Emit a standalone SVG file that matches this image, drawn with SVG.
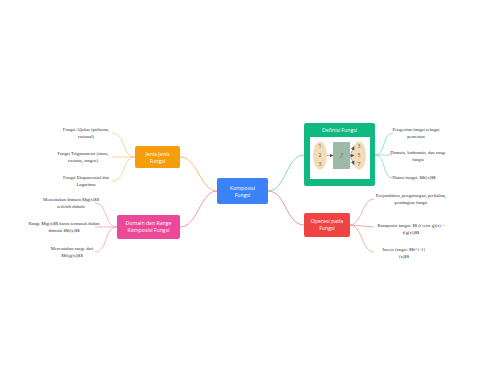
<svg xmlns="http://www.w3.org/2000/svg" width="480" height="384" viewBox="0 0 480 384">
<defs>
<style>
.leaf{font-family:"Liberation Serif",serif;font-size:4.6px;fill:#333;text-anchor:middle}
.nt{font-family:"Open Sans","Liberation Sans",sans-serif;font-size:5.2px;fill:#fff;text-anchor:middle}
.c{fill:none;stroke-width:0.8}
.num{font-family:"Open Sans","Liberation Sans",sans-serif;font-size:5px;fill:#555;text-anchor:middle}
</style>
<marker id="ah" markerWidth="4" markerHeight="4" refX="3.5" refY="2" orient="auto" markerUnits="userSpaceOnUse"><path d="M0,0 L4,2 L0,4 Z" fill="#555"/></marker>
</defs>
<rect width="480" height="384" fill="#fff"/>
<g id="connectors">
<path class="c" stroke="#f5b041" d="M217,191 C200,191 198,157 180,157"/>
<path class="c" stroke="#f07aa8" d="M217,191 C200,191 198,227 180,227"/>
<path class="c" stroke="#5fcfa4" d="M268,191 C286,191 286,155 304,155"/>
<path class="c" stroke="#f07a7a" d="M268,191 C286,191 286,225 304,225"/>
<path class="c" stroke="#f5c77a" d="M135,157 C122,157 126,133 112,133"/>
<path class="c" stroke="#f5c77a" d="M135,157 L112,157"/>
<path class="c" stroke="#f5c77a" d="M135,157 C122,157 126,181 112,181"/>
<path class="c" stroke="#f3a0c4" d="M117,227 C104,227 108,203 95,203"/>
<path class="c" stroke="#f3a0c4" d="M117,227 L95,227"/>
<path class="c" stroke="#f3a0c4" d="M117,227 C104,227 108,252 95,252"/>
<path class="c" stroke="#7fd8b5" d="M375,155 C386,155 382,133 393,133"/>
<path class="c" stroke="#7fd8b5" d="M375,155 L392,155"/>
<path class="c" stroke="#7fd8b5" d="M375,155 C386,155 382,178 393,178"/>
<path class="c" stroke="#f39a9a" d="M350,225 C362,225 362,199 374,199"/>
<path class="c" stroke="#f39a9a" d="M350,225 L374,227"/>
<path class="c" stroke="#f39a9a" d="M350,225 C362,225 362,252 374,252"/>
</g>
<g id="center">
<rect x="217" y="178" width="51" height="26" rx="2" fill="#3b82f6"/>
<text class="nt" x="242.5" y="189.5">Komposisi</text>
<text class="nt" x="242.5" y="197">Fungsi</text>
</g>
<g id="jenis">
<rect x="135" y="146" width="45" height="22" rx="2" fill="#f59e0b"/>
<text class="nt" x="157.5" y="155.5" font-size="4.8">Jenis-Jenis</text>
<text class="nt" x="157.5" y="162.5" font-size="4.8">Fungsi</text>
</g>
<g id="domain">
<rect x="117" y="215" width="63" height="24" rx="2" fill="#ec4899"/>
<text class="nt" x="148.5" y="225" font-size="4.8">Domain dan Range</text>
<text class="nt" x="148.5" y="232" font-size="4.8">Komposisi Fungsi</text>
</g>
<g id="definisi">
<rect x="304" y="123" width="71" height="63" rx="2" fill="#10b981"/>
<text class="nt" x="339.5" y="132" font-size="4.8">Definisi Fungsi</text>
<rect x="310" y="137" width="60" height="42" fill="#fff"/>
<ellipse cx="320" cy="155.5" rx="7" ry="14" fill="#f3dcb8"/>
<ellipse cx="359" cy="155.5" rx="7" ry="14" fill="#f3dcb8"/>
<rect x="333" y="142" width="17" height="27" fill="#9dbaa8"/>
<text class="num" x="320" y="148">1</text>
<text class="num" x="320" y="157">2</text>
<text class="num" x="320" y="166">3</text>
<text class="num" x="359" y="148">3</text>
<text class="num" x="359" y="157">5</text>
<text class="num" x="359" y="166">7</text>
<text class="num" x="341.5" y="157" font-style="italic">f</text>
<g stroke="#555" stroke-width="0.5" fill="none">
<path d="M327,155.5 L333,155.5" marker-end="url(#ah)"/>
<path d="M350,155.5 L354,146.5" marker-end="url(#ah)"/>
<path d="M350,155.5 L354,155.5" marker-end="url(#ah)"/>
<path d="M350,155.5 L354,164.5" marker-end="url(#ah)"/>
</g>
</g>
<g id="operasi">
<rect x="304" y="213" width="46" height="24" rx="2" fill="#ef4444"/>
<text class="nt" x="327" y="223" font-size="4.8">Operasi pada</text>
<text class="nt" x="327" y="230" font-size="4.8">Fungsi</text>
</g>
<g id="leaf-j1"><text class="leaf" x="86" y="131">Fungsi Aljabar (polinom,</text><text class="leaf" x="86" y="138">rasional)</text></g>
<g id="leaf-j2"><text class="leaf" x="83" y="155">Fungsi Trigonometri (sinus,</text><text class="leaf" x="83" y="162">cosinus, tangen)</text></g>
<g id="leaf-j3"><text class="leaf" x="86" y="179">Fungsi Eksponensial dan</text><text class="leaf" x="86" y="186">Logaritma</text></g>
<g id="leaf-d1"><text class="leaf" x="71" y="201">Menentukan domain $$g(x)$$</text><text class="leaf" x="71" y="208">terlebih dahulu</text></g>
<g id="leaf-d2"><text class="leaf" x="64" y="225">Range $$g(x)$$ harus termasuk dalam</text><text class="leaf" x="64" y="232">domain $$f(x)$$</text></g>
<g id="leaf-d3"><text class="leaf" x="72" y="250">Menentukan range dari</text><text class="leaf" x="72" y="257">$$f(g(x))$$</text></g>
<g id="leaf-g1"><text class="leaf" x="416" y="131">Pengertian fungsi sebagai</text><text class="leaf" x="416" y="138">pemetaan</text></g>
<g id="leaf-g2"><text class="leaf" x="418" y="154">Domain, kodomain, dan range</text><text class="leaf" x="418" y="161">fungsi</text></g>
<g id="leaf-g3"><text class="leaf" x="414" y="179">Notasi fungsi: $$f(x)$$</text></g>
<g id="leaf-o1"><text class="leaf" x="411" y="197">Penjumlahan, pengurangan, perkalian,</text><text class="leaf" x="411" y="204">pembagian fungsi</text></g>
<g id="leaf-o2"><text class="leaf" x="411" y="227">Komposisi fungsi: $$ (f \circ g)(x) =</text><text class="leaf" x="411" y="234">f(g(x))$$</text></g>
<g id="leaf-o3"><text class="leaf" x="404" y="251">Invers fungsi: $$f^{-1}</text><text class="leaf" x="404" y="258">(x)$$</text></g>
</svg>
